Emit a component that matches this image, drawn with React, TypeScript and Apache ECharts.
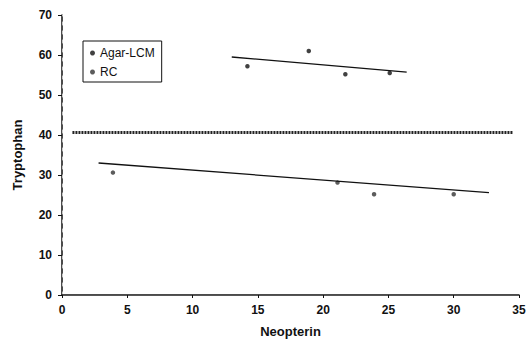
import React, { useEffect, useRef } from "react";
import * as echarts from "echarts";

const agarX = [14.2, 18.9, 21.7, 25.1];
const agarY = [57.2, 61.0, 55.2, 55.5];
const rcX = [3.9, 21.1, 23.9, 30.0];
const rcY = [30.6, 28.1, 25.2, 25.2];
const agarTrendX = [13.0, 26.4];
const agarTrendY = [59.5, 55.7];
const rcTrendX = [2.8, 32.7];
const rcTrendY = [33.0, 25.6];
const refX = [0.8, 34.5];
const refY = [40.6, 40.6];

const pairs = (xs: number[], ys: number[]) => xs.map((x, i) => [x, ys[i]]);

export default function App() {
  const ref = useRef<HTMLDivElement>(null);
  useEffect(() => {
    const chart = echarts.init(ref.current!, null, { renderer: "svg" });
    const font = "'Liberation Sans', Arial, sans-serif";
    chart.setOption({
      animation: false,
      backgroundColor: "#ffffff",
      textStyle: { fontFamily: font },
      grid: { left: 62, right: 13, top: 15, bottom: 55 },
      legend: {
        orient: "vertical",
        left: 83,
        top: 41,
        padding: [5, 7, 3, 7],
        borderColor: "#111",
        borderWidth: 1,
        itemWidth: 5,
        itemHeight: 5,
        itemGap: 5,
        textStyle: { fontFamily: font, fontSize: 12, color: "#111", lineHeight: 14 },
        data: [
          { name: "Agar-LCM", icon: "circle" },
          { name: "RC", icon: "circle" },
        ],
      },
      xAxis: [
        {
          type: "value",
          min: 0,
          max: 35,
          interval: 5,
          name: "Neopterin",
          nameLocation: "middle",
          nameGap: 30,
          nameTextStyle: { fontFamily: font, fontSize: 13, fontWeight: "bold", color: "#111" },
          axisLine: { show: true, onZero: false, lineStyle: { color: "#111", width: 1.5 } },
          axisTick: { show: true, length: 3, lineStyle: { color: "#111" } },
          axisLabel: { margin: 9, fontFamily: font, fontSize: 12, fontWeight: "bold", color: "#111" },
          splitLine: { show: false },
        },
        {
          type: "value",
          position: "top",
          min: 0,
          max: 35,
          axisLine: { show: true, lineStyle: { color: "#555", width: 1.2 } },
          axisTick: { show: false },
          axisLabel: { show: false },
          splitLine: { show: false },
        },
      ],
      yAxis: [
        {
          type: "value",
          min: 0,
          max: 70,
          interval: 10,
          name: "Tryptophan",
          nameLocation: "middle",
          nameGap: 38,
          nameTextStyle: { fontFamily: font, fontSize: 13, fontWeight: "bold", color: "#111" },
          axisLine: { show: true, onZero: false, lineStyle: { color: "#111", width: 1.5 } },
          axisTick: { show: true, length: 4, lineStyle: { color: "#111" } },
          axisLabel: { margin: 10, fontFamily: font, fontSize: 12, fontWeight: "bold", color: "#111" },
          splitLine: { show: false },
        },
        {
          type: "value",
          position: "right",
          min: 0,
          max: 70,
          axisLine: { show: true, lineStyle: { color: "#c8c8c8", width: 1, type: [3, 6] } },
          axisTick: { show: false },
          axisLabel: { show: false },
          splitLine: { show: false },
        },
      ],
      series: [
        {
          name: "Agar-LCM",
          type: "scatter",
          symbol: "circle",
          symbolSize: 4.5,
          itemStyle: { color: "#111" },
          data: pairs(agarX, agarY),
        },
        {
          name: "RC",
          type: "scatter",
          symbol: "circle",
          symbolSize: 4.5,
          itemStyle: { color: "#333" },
          data: pairs(rcX, rcY),
        },
        {
          name: "Agar trend",
          type: "line",
          showSymbol: false,
          symbol: "none",
          lineStyle: { color: "#111", width: 1.3 },
          data: pairs(agarTrendX, agarTrendY),
        },
        {
          name: "RC trend",
          type: "line",
          showSymbol: false,
          symbol: "none",
          lineStyle: { color: "#111", width: 1.3 },
          data: pairs(rcTrendX, rcTrendY),
        },
        {
          name: "Reference",
          type: "line",
          showSymbol: false,
          symbol: "none",
          lineStyle: { color: "#222", width: 3, type: [2, 1] },
          data: pairs(refX, refY),
        },
      ],
    });
    return () => chart.dispose();
  }, []);
  return <div ref={ref} style={{ width: 532, height: 350, position: "absolute", left: 0, top: 0 }} />;
}
